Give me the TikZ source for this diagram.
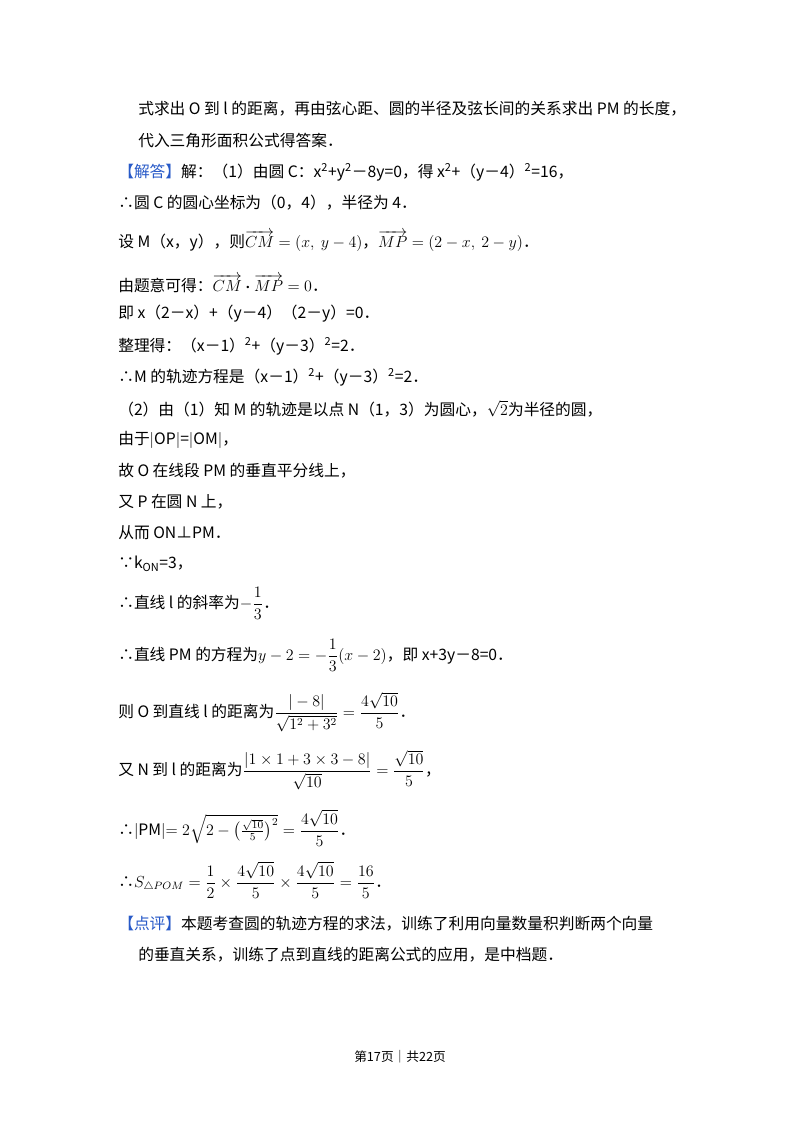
\documentclass[tikz,border=0pt]{standalone}
\usepackage{fontspec}
\usepackage{amsmath}
\setmainfont{Noto Sans CJK SC}
\definecolor{hl}{RGB}{40,90,200}
\begin{document}
\begin{tikzpicture}[x=0.75pt,y=-0.75pt,
  t/.style={anchor=west,inner sep=0pt,font=\fontsize{11.8}{14}\selectfont}]
\path[fill=white] (0,0) rectangle (800,1132);
\node[t] (l1) at (138,109) {式求出 O 到 l 的距离，再由弦心距、圆的半径及弦长间的关系求出 PM 的长度，};
\node[t] (l2) at (138,141) {代入三角形面积公式得答案．};
\node[t] (l3) at (118,172) {\textcolor{hl}{【解答】}解：（1）由圆 C：x\textsuperscript{2}+y\textsuperscript{2}－8y=0，得 x\textsuperscript{2}+（y－4）\textsuperscript{2}=16，};
\node[t] (l4) at (118,203) {∴圆 C 的圆心坐标为（0，4），半径为 4．};
\node[t] (l5) at (118,241) {设 M（x，y），则$\overrightarrow{CM}=(x,\ y-4)$，$\overrightarrow{MP}=(2-x,\ 2-y)$．};
\node[t] (l6) at (118,284) {由题意可得：$\overrightarrow{CM}\boldsymbol{\cdot}\overrightarrow{MP}=0$．};
\node[t] (l7) at (118,314) {即 x（2－x）+（y－4）（2－y）=0．};
\node[t] (l8) at (118,346) {整理得：（x－1）\textsuperscript{2}+（y－3）\textsuperscript{2}=2．};
\node[t] (l9) at (118,377) {∴M 的轨迹方程是（x－1）\textsuperscript{2}+（y－3）\textsuperscript{2}=2．};
\node[t] (l10) at (118,409) {（2）由（1）知 M 的轨迹是以点 N（1，3）为圆心，$\sqrt{2}$为半径的圆，};
\node[t] (l11) at (118,440) {由于$|$OP$|$=$|$OM$|$，};
\node[t] (l12) at (118,471) {故 O 在线段 PM 的垂直平分线上，};
\node[t] (l13) at (118,502) {又 P 在圆 N 上，};
\node[t] (l14) at (118,533) {从而 ON⊥PM．};
\node[t] (l15) at (118,564) {∵k\textsubscript{ON}=3，};
\node[t] (l16) at (118,603) {∴直线 l 的斜率为$-\dfrac{1}{3}$．};
\node[t] (l17) at (118,655) {∴直线 PM 的方程为$y-2=-\dfrac{1}{3}(x-2)$，即 x+3y－8=0．};
\node[t] (l18) at (118,712) {则 O 到直线 l 的距离为$\dfrac{|-8|}{\sqrt{1^2+3^2}}=\dfrac{4\sqrt{10}}{5}$．};
\node[t] (l19) at (118,770) {又 N 到 l 的距离为$\dfrac{|1\times1+3\times3-8|}{\sqrt{10}}=\dfrac{\sqrt{10}}{5}$，};
\node[t] (l20) at (118,828) {∴$|$PM$|$$=2\sqrt{2-\bigl(\tfrac{\sqrt{10}}{5}\bigr)^2}=\dfrac{4\sqrt{10}}{5}$．};
\node[t] (l21) at (118,880) {∴$S_{\triangle POM}=\dfrac{1}{2}\times\dfrac{4\sqrt{10}}{5}\times\dfrac{4\sqrt{10}}{5}=\dfrac{16}{5}$．};
\node[t] (l22) at (118,924) {\textcolor{hl}{【点评】}本题考查圆的轨迹方程的求法，训练了利用向量数量积判断两个向量};
\node[t] (l23) at (138,955) {的垂直关系，训练了点到直线的距离公式的应用，是中档题．};
\node[inner sep=0pt,font=\fontsize{9.5}{12}\selectfont] (ft) at (400,1057) {第17页｜共22页};
\end{tikzpicture}
\end{document}
